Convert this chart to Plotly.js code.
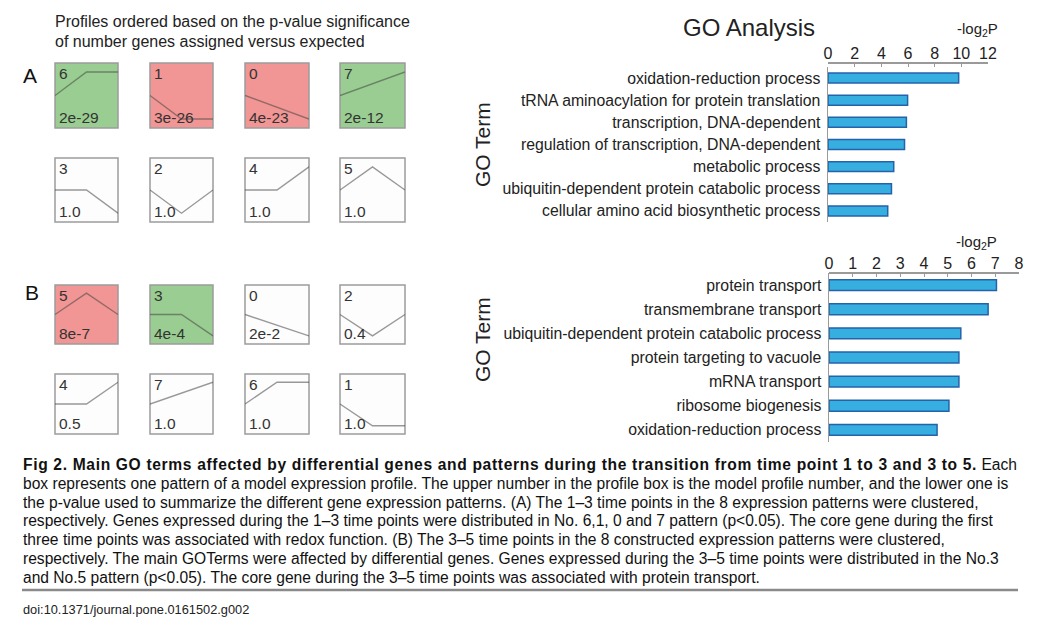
<!DOCTYPE html>
<html><head><meta charset="utf-8">
<script src="https://cdn.plot.ly/plotly-3.0.1.min.js"></script>
<style>html,body{margin:0;padding:0;background:#fff}#chart{width:1040px;height:636px}</style>
</head><body><div id="chart"></div>
<script>
// ---------- DATA ----------
const timePoints = [0, 1, 2];
const profileShape0 = [0, -1, -2];
const profileShape1 = [0, -1, -1];
const profileShape2 = [0, -1, 0];
const profileShape3 = [0, 0, -1];
const profileShape4 = [0, 0, 1];
const profileShape5 = [0, 1, 0];
const profileShape6 = [0, 1, 1];
const profileShape7 = [0, 1, 2];
const profileShapes = [profileShape0, profileShape1, profileShape2, profileShape3,
                       profileShape4, profileShape5, profileShape6, profileShape7];

const panelA_ids   = [6, 1, 0, 7, 3, 2, 4, 5];
const panelA_pvals = ['2e-29', '3e-26', '4e-23', '2e-12', '1.0', '1.0', '1.0', '1.0'];
const panelA_sig   = ['green', 'red', 'red', 'green', 'none', 'none', 'none', 'none'];

const panelB_ids   = [5, 3, 0, 2, 4, 7, 6, 1];
const panelB_pvals = ['8e-7', '4e-4', '2e-2', '0.4', '0.5', '1.0', '1.0', '1.0'];
const panelB_sig   = ['red', 'green', 'none', 'none', 'none', 'none', 'none', 'none'];

const goA_terms = ['oxidation-reduction process', 'tRNA aminoacylation for protein translation',
  'transcription, DNA-dependent', 'regulation of transcription, DNA-dependent',
  'metabolic process', 'ubiquitin-dependent protein catabolic process',
  'cellular amino acid biosynthetic process'];
const goA_vals = [9.8, 5.97, 5.88, 5.74, 4.93, 4.76, 4.48];
const goA_ticks = [0, 2, 4, 6, 8, 10, 12];

const goB_terms = ['protein transport', 'transmembrane transport',
  'ubiquitin-dependent protein catabolic process', 'protein targeting to vacuole',
  'mRNA transport', 'ribosome biogenesis', 'oxidation-reduction process'];
const goB_vals = [7.05, 6.7, 5.55, 5.47, 5.47, 5.05, 4.55];
const goB_ticks = [0, 1, 2, 3, 4, 5, 6, 7, 8];

const captionTitle = 'Fig 2. Main GO terms affected by differential genes and patterns during the transition from time point 1 to 3 and 3 to 5.';
const captionLines = [
  ' Each',
  'box represents one pattern of a model expression profile. The upper number in the profile box is the model profile number, and the lower one is',
  'the p-value used to summarize the different gene expression patterns. (A) The 1–3 time points in the 8 expression patterns were clustered,',
  'respectively. Genes expressed during the 1–3 time points were distributed in No. 6,1, 0 and 7 pattern (p<0.05). The core gene during the first',
  'three time points was associated with redox function. (B) The 3–5 time points in the 8 constructed expression patterns were clustered,',
  'respectively. The main GOTerms were affected by differential genes. Genes expressed during the 3–5 time points were distributed in the No.3',
  'and No.5 pattern (p<0.05). The core gene during the 3–5 time points was associated with protein transport.'
];
const doiText = 'doi:10.1371/journal.pone.0161502.g002';

// ---------- LAYOUT GEOMETRY ----------
const W = 1040, H = 636;
const px = v => v / W;
const py = v => 1 - v / H;
const SANS = 'Liberation Sans, Arial, Helvetica, sans-serif';
const colX = [[55, 118], [150, 213], [245, 309], [340, 405]];
const rowY = [[63, 128], [158, 222], [285, 344], [374, 434]];
const fillMap = {green: '#9acd91', red: '#f19694', none: '#fdfdfd'};

const data = [];
const layout = {
  width: W, height: H, margin: {l: 0, r: 0, t: 0, b: 0},
  paper_bgcolor: '#fff', plot_bgcolor: 'rgba(0,0,0,0)',
  showlegend: false, bargap: 0.55,
  font: {family: SANS, color: '#222'},
  shapes: [], annotations: []
};

function addProfile(n, id, pval, sig, col, row) {
  const vals = profileShapes[id];
  const m = Math.max(...vals.map(Math.abs));
  const xa = 'xaxis' + n, ya = 'yaxis' + n;
  layout[xa] = {domain: [px(colX[col][0]), px(colX[col][1])], range: [0, 2], visible: false, fixedrange: true, anchor: 'y' + n};
  layout[ya] = {domain: [py(rowY[row][1]), py(rowY[row][0])], range: [-1.38 * m, 1.38 * m], visible: false, fixedrange: true, anchor: 'x' + n};
  const xr = (n === 1 ? 'x' : 'x' + n), yr = (n === 1 ? 'y' : 'y' + n);
  layout.shapes.push({type: 'rect', xref: xr + ' domain', yref: yr + ' domain', x0: 0, x1: 1, y0: 0, y1: 1,
    fillcolor: fillMap[sig], line: {color: '#9c9c9c', width: 1.5}, layer: 'below'});
  data.push({type: 'scatter', mode: 'lines', x: timePoints, y: vals, xaxis: xr, yaxis: yr,
    line: {color: 'rgba(70,70,70,0.55)', width: 1.4}, hoverinfo: 'skip', cliponaxis: false});
  layout.annotations.push({xref: xr + ' domain', yref: yr + ' domain', x: 0.03, y: 1.0, xanchor: 'left', yanchor: 'top',
    text: String(id), showarrow: false, font: {size: 15.5, color: '#333', family: SANS}});
  layout.annotations.push({xref: xr + ' domain', yref: yr + ' domain', x: 0.03, y: 0.0, xanchor: 'left', yanchor: 'bottom',
    text: pval, showarrow: false, font: {size: 15.5, color: '#333', family: SANS}});
}

let n = 1;
panelA_ids.forEach((id, i) => { addProfile(n++, id, panelA_pvals[i], panelA_sig[i], i % 4, Math.floor(i / 4)); });
panelB_ids.forEach((id, i) => { addProfile(n++, id, panelB_pvals[i], panelB_sig[i], i % 4, 2 + Math.floor(i / 4)); });

// ---------- GO BAR CHARTS ----------
function addBars(k, terms, vals, ticks, xDom, yDom, axisY) {
  const xr = 'x' + k, yr = 'y' + k;
  layout['xaxis' + k] = {domain: [px(xDom[0]), px(xDom[1])], range: [0, ticks[ticks.length - 1]],
    side: 'top', anchor: 'free', position: py(axisY), tickvals: ticks, ticktext: ticks.map(String),
    showline: true, linecolor: '#9a9a9a', linewidth: 1.5, ticks: 'inside', ticklen: 3, tickcolor: '#9a9a9a',
    ticklabelstandoff: -3,
    tickfont: {size: 16, color: '#222', family: SANS}, showgrid: false, zeroline: false, fixedrange: true};
  layout['yaxis' + k] = {domain: [py(yDom[1]), py(yDom[0])], type: 'category', autorange: 'reversed',
    anchor: xr, showline: true, linecolor: '#9a9a9a', linewidth: 1.5, ticks: '', ticklabelstandoff: 3,
    tickfont: {size: 15.8, color: '#222', family: SANS}, showgrid: false, zeroline: false, fixedrange: true};
  data.push({type: 'bar', orientation: 'h', x: vals, y: terms, xaxis: xr, yaxis: yr,
    marker: {color: '#36aee0', line: {color: '#2462aa', width: 1.5}}, hoverinfo: 'skip'});
}
addBars(17, goA_terms, goA_vals, goA_ticks, [828, 988], [67, 222], 62);
addBars(18, goB_terms, goB_vals, goB_ticks, [829, 1019], [273, 442], 272);

// ---------- TEXT ----------
function ann(x, y, text, opts) {
  layout.annotations.push(Object.assign({xref: 'paper', yref: 'paper', x: px(x), y: py(y), text: text,
    showarrow: false, xanchor: 'left', yanchor: 'middle'}, opts));
}
ann(53, 22, 'Profiles ordered based on the p-value significance', {font: {size: 16, family: SANS, color: '#222'}});
ann(53, 41, 'of number genes assigned versus expected', {font: {size: 16, family: SANS, color: '#222'}});
ann(21, 76, 'A', {font: {size: 21, family: SANS, color: '#111'}});
ann(23, 292, 'B', {font: {size: 21, family: SANS, color: '#111'}});
ann(749, 28, 'GO Analysis', {xanchor: 'center', font: {size: 24, family: SANS, color: '#222'}});
ann(977, 30, '-log<sub>2</sub>P', {xanchor: 'center', font: {size: 15, family: SANS, color: '#222'}});
ann(976, 242, '-log<sub>2</sub>P', {xanchor: 'center', font: {size: 15, family: SANS, color: '#222'}});
ann(482, 145, 'GO Term', {xanchor: 'center', textangle: -90, font: {size: 21, family: SANS, color: '#222'}});
ann(482, 340, 'GO Term', {xanchor: 'center', textangle: -90, font: {size: 21, family: SANS, color: '#222'}});

captionLines.forEach((t, i) => {
  const txt = i === 0 ? '<span style="letter-spacing:0.66px"><b>' + captionTitle + '</b></span>' + t : t;
  ann(21, 464.5 + 18.8 * i, txt, {font: {size: 15.6, family: SANS, color: '#111'}});
});
layout.shapes.push({type: 'line', xref: 'paper', yref: 'paper', x0: px(22), x1: px(1018), y0: py(590), y1: py(590),
  line: {color: '#8a8a8a', width: 2.5}});
ann(21, 609, doiText, {font: {size: 12.8, family: SANS, color: '#222'}});

Plotly.newPlot('chart', data, layout, {staticPlot: true, displayModeBar: false});
</script></body></html>
